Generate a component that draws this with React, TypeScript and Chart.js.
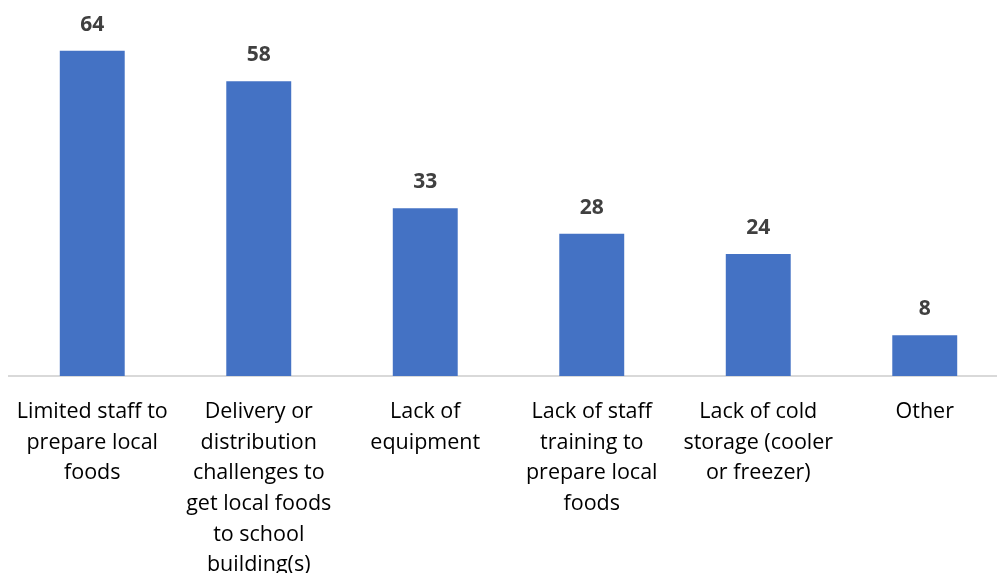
import React, { useEffect, useRef } from "react";
import { Chart, registerables } from "chart.js";

Chart.register(...registerables);

const categories: string[][] = [
  ["Limited staff to", "prepare local", "foods"],
  ["Delivery or", "distribution", "challenges to", "get local foods", "to school", "building(s)"],
  ["Lack of", "equipment"],
  ["Lack of staff", "training to", "prepare local", "foods"],
  ["Lack of cold", "storage (cooler", "or freezer)"],
  ["Other"],
];
const values: number[] = [64, 58, 33, 28, 24, 8];

const FONT = "'Open Sans', Lato, sans-serif";
const CANVAS_W = 1010;
const CANVAS_H = 600;
const AXIS_Y = 376;

const dataLabelPlugin = {
  id: "dataLabels",
  afterDatasetsDraw(chart: any) {
    const ctx = chart.ctx;
    const meta = chart.getDatasetMeta(0);
    ctx.save();
    ctx.font = `bold 21px ${FONT}`;
    ctx.fillStyle = "#404040";
    ctx.textAlign = "center";
    ctx.textBaseline = "alphabetic";
    meta.data.forEach((bar: any, i: number) => {
      ctx.fillText(String(values[i]), bar.x, bar.y - 20);
    });
    ctx.restore();
  },
};

export default function App() {
  const ref = useRef<HTMLCanvasElement | null>(null);
  useEffect(() => {
    if (!ref.current) return;
    const chart = new Chart(ref.current, {
      type: "bar",
      data: {
        labels: categories,
        datasets: [
          {
            data: values,
            backgroundColor: "#4472C4",
            barPercentage: 0.39,
            categoryPercentage: 1,
          },
        ],
      },
      options: {
        animation: false,
        responsive: false,
        maintainAspectRatio: false,
        layout: { padding: { left: 9, right: 2, top: 0, bottom: 0 } },
        plugins: { legend: { display: false }, tooltip: { enabled: false } },
        scales: {
          x: {
            grid: { display: false, drawTicks: false },
            border: { display: true, color: "#d9d9d9", width: 2 },
            ticks: {
              color: "#000000",
              font: { family: FONT, size: 21.5, lineHeight: 1.42 },
              padding: 21,
              maxRotation: 0,
              autoSkip: false,
            },
            afterFit: (scale: any) => {
              scale.height = CANVAS_H - AXIS_Y;
              scale.paddingLeft = 0;
              scale.paddingRight = 0;
            },
          },
          y: {
            display: false,
            min: 0,
            max: 74,
          },
        },
      },
      plugins: [dataLabelPlugin],
    });
    return () => chart.destroy();
  }, []);
  return (
    <div
      style={{
        position: "fixed",
        left: 0,
        top: 0,
        width: 997,
        height: 573,
        overflow: "hidden",
        background: "#ffffff",
      }}
    >
      <canvas ref={ref} width={CANVAS_W} height={CANVAS_H} style={{ display: "block" }} />
    </div>
  );
}
